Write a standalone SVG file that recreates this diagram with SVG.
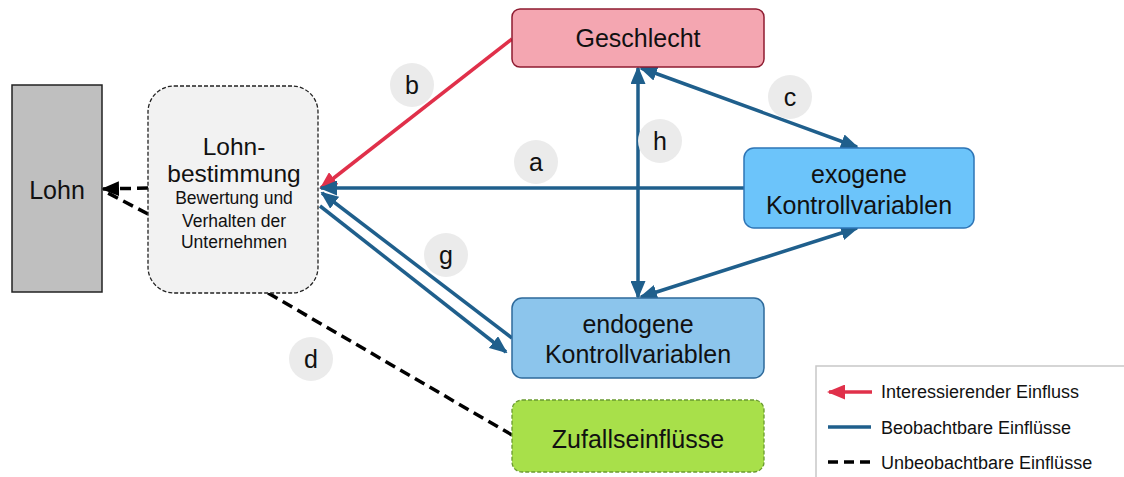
<svg xmlns="http://www.w3.org/2000/svg" width="1124" height="477" viewBox="0 0 1124 477">
<style>
text{font-family:"Liberation Sans",Arial,sans-serif;fill:#111;text-anchor:middle}
.blue{stroke:#1f5f8c;stroke-width:3.5;fill:none}
.red{stroke:#e0304a;stroke-width:3.5;fill:none}
.dash{stroke:#000;stroke-width:3.5;fill:none;stroke-dasharray:11 6}
.lbl circle{fill:#ebebeb}
.lbl text{font-size:25px}
.big{font-size:25px}
.leg{font-size:18px;text-anchor:start}
</style>
<defs>
<marker id="ab" markerUnits="userSpaceOnUse" markerWidth="18" markerHeight="15" refX="16" refY="7.5" orient="auto-start-reverse"><path d="M0,0 L18,7.5 L0,15 Z" fill="#1f5f8c"/></marker>
<marker id="ar" markerUnits="userSpaceOnUse" markerWidth="18" markerHeight="15" refX="16" refY="7.5" orient="auto-start-reverse"><path d="M0,0 L18,7.5 L0,15 Z" fill="#e0304a"/></marker>
<marker id="ak" markerUnits="userSpaceOnUse" markerWidth="18" markerHeight="15" refX="16" refY="7.5" orient="auto-start-reverse"><path d="M0,0 L18,7.5 L0,15 Z" fill="#000"/></marker>
</defs>
<rect width="1124" height="477" fill="#fff"/>
<g id="connectors">
<line class="red" x1="512" y1="39" x2="321" y2="188" marker-end="url(#ar)"/>
<line class="blue" x1="744" y1="188" x2="321" y2="188" marker-end="url(#ab)"/>
<line class="blue" x1="512" y1="338" x2="322" y2="193" marker-end="url(#ab)"/>
<line class="blue" x1="320" y1="206" x2="506" y2="352" marker-end="url(#ab)"/>
<line class="blue" x1="638" y1="68" x2="638" y2="297" marker-start="url(#ab)" marker-end="url(#ab)"/>
<line class="blue" x1="641" y1="68" x2="857" y2="147" marker-start="url(#ab)" marker-end="url(#ab)"/>
<line class="blue" x1="857" y1="228" x2="641" y2="297" marker-start="url(#ab)" marker-end="url(#ab)"/>
<line class="dash" x1="268" y1="293" x2="512" y2="435"/>
<line class="dash" x1="148" y1="188" x2="103" y2="189" marker-end="url(#ak)"/>
<line class="dash" x1="148" y1="214" x2="106" y2="192"/>
</g>
<g id="lohn">
<rect x="12" y="85" width="90" height="207" fill="#bfbfbf" stroke="#222" stroke-width="1.5"/>
<text x="57" y="199" class="big">Lohn</text>
</g>
<g id="lohnbestimmung">
<rect x="148" y="86" width="170" height="207" rx="26" fill="#f2f2f2" stroke="#222" stroke-width="1.3" stroke-dasharray="4 2"/>
<text x="234" y="155" font-size="24.5">Lohn-</text>
<text x="234" y="182" font-size="24.5">bestimmung</text>
<text x="234" y="204" font-size="17.5">Bewertung und</text>
<text x="234" y="227" font-size="17.5">Verhalten der</text>
<text x="234" y="248" font-size="17.5">Unternehmen</text>
</g>
<g id="geschlecht">
<rect x="512" y="9" width="252" height="58" rx="8" fill="#f4a6b1" stroke="#8e1b30" stroke-width="1.5"/>
<text x="638" y="47" class="big">Geschlecht</text>
</g>
<g id="exogene">
<rect x="744" y="148" width="230" height="80" rx="10" fill="#6cc4fa" stroke="#2e75b6" stroke-width="1.5"/>
<text x="859" y="183" class="big">exogene</text>
<text x="859" y="214" class="big">Kontrollvariablen</text>
</g>
<g id="endogene">
<rect x="512" y="298" width="252" height="80" rx="10" fill="#8cc5ec" stroke="#2e6a9b" stroke-width="1.5"/>
<text x="638" y="333" class="big">endogene</text>
<text x="638" y="363" class="big">Kontrollvariablen</text>
</g>
<g id="zufall">
<rect x="512" y="400" width="252" height="72" rx="10" fill="#a8e04a" stroke="#6a9a30" stroke-width="1.3" stroke-dasharray="4 2"/>
<text x="638" y="448" class="big">Zufallseinflüsse</text>
</g>
<g id="labels" class="lbl">
<circle cx="412" cy="85" r="22"/><text x="412" y="94">b</text>
<circle cx="536" cy="162" r="22"/><text x="536" y="171">a</text>
<circle cx="790" cy="97" r="22"/><text x="790" y="106">c</text>
<circle cx="660" cy="141" r="22"/><text x="660" y="150">h</text>
<circle cx="446" cy="255" r="22"/><text x="446" y="264">g</text>
<circle cx="311" cy="359" r="22"/><text x="311" y="368">d</text>
</g>
<g id="legend">
<rect x="816" y="366" width="320" height="120" fill="#fff" stroke="#c8c8c8" stroke-width="1.5"/>
<line class="red" x1="872" y1="392" x2="829" y2="392" marker-end="url(#ar)"/>
<text x="881" y="398" class="leg">Interessierender Einfluss</text>
<line class="blue" x1="828" y1="427" x2="871" y2="427"/>
<text x="881" y="434" class="leg">Beobachtbare Einflüsse</text>
<line class="dash" x1="828" y1="462" x2="872" y2="462" style="stroke-dasharray:10 6"/>
<text x="881" y="469" class="leg">Unbeobachtbare Einflüsse</text>
</g>
</svg>
